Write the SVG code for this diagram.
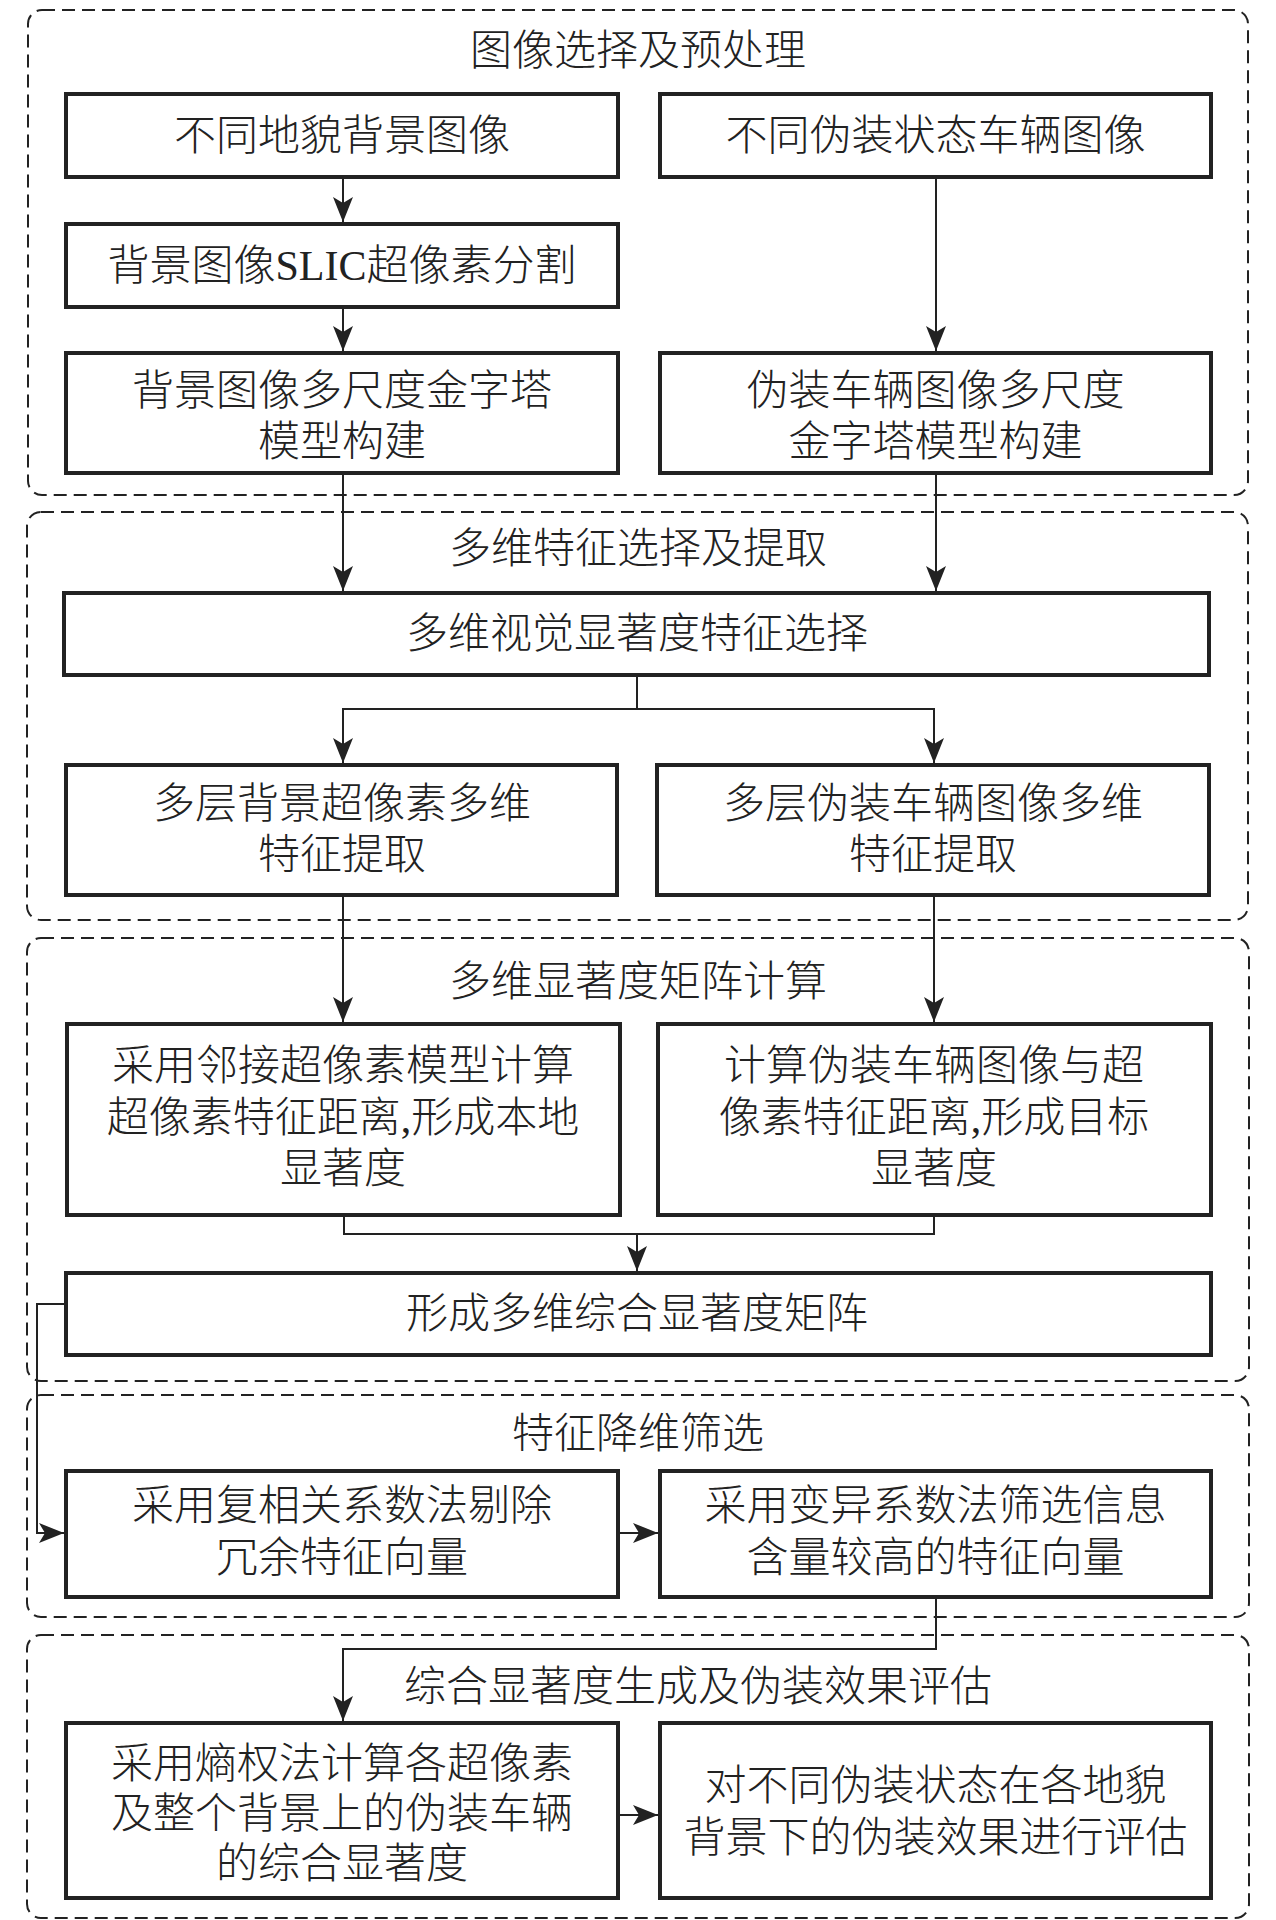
<svg xmlns="http://www.w3.org/2000/svg" width="1276" height="1920" viewBox="0 0 1276 1920">
<style>
.grp{fill:none;stroke:#222;stroke-width:2;stroke-dasharray:13 7;}
.box{fill:#fff;stroke:#222;stroke-width:4;}
.t{font-family:'Liberation Serif','Noto Sans CJK SC',serif;font-size:42px;fill:#222;text-anchor:middle;font-weight:300;}
.ts{text-anchor:start;}
.c{fill:none;stroke:#222;stroke-width:2;}
.a{marker-end:url(#ah);}
</style>
<defs>
<marker id="ah" markerUnits="userSpaceOnUse" markerWidth="30" markerHeight="26" viewBox="-26 -13 30 26" refX="0" refY="0" orient="auto">
<path d="M0,0 L-25,-10 L-19,0 L-25,10 Z" fill="#222"/>
</marker>
</defs>
<rect width="1276" height="1920" fill="#fff"/>
<g id="groups">
<rect class="grp" x="28" y="10" width="1220" height="485" rx="14"/>
<rect class="grp" x="27" y="512" width="1221" height="408" rx="14"/>
<rect class="grp" x="27" y="938" width="1222" height="443" rx="14"/>
<rect class="grp" x="27" y="1395" width="1222" height="222" rx="14"/>
<rect class="grp" x="27" y="1635" width="1222" height="283" rx="14"/>
<text class="t" x="638" y="65">图像选择及预处理</text>
<text class="t" x="638" y="563">多维特征选择及提取</text>
<text class="t" x="638" y="996">多维显著度矩阵计算</text>
<text class="t" x="638" y="1448">特征降维筛选</text>
<text class="t ts" x="404" y="1701">综合显著度生成及伪装效果评估</text>
</g>
<g id="connectors">
<path class="c a" d="M343,177 V222"/>
<path class="c a" d="M343,307 V351"/>
<path class="c a" d="M936,177 V351"/>
<path class="c a" d="M343,473 V591"/>
<path class="c a" d="M936,473 V591"/>
<path class="c a" d="M637,675 V709 H343 V763"/>
<path class="c a" d="M637,709 H934 V763"/>
<path class="c a" d="M343,895 V1022"/>
<path class="c a" d="M934,895 V1022"/>
<path class="c" d="M344,1215 V1234 H934 V1215"/>
<path class="c a" d="M637,1234 V1271"/>
<path class="c a" d="M66,1304 H37 V1533 H64"/>
<path class="c a" d="M618,1533 H658"/>
<path class="c a" d="M936,1597 V1649 H343 V1721"/>
<path class="c a" d="M618,1815 H658"/>
</g>
<g id="n1"><rect class="box" x="66" y="94" width="552" height="83"/><text class="t" x="342" y="150">不同地貌背景图像</text></g>
<g id="n2"><rect class="box" x="660" y="94" width="551" height="83"/><text class="t" x="935.5" y="150">不同伪装状态车辆图像</text></g>
<g id="n3"><rect class="box" x="66" y="224" width="552" height="83"/><text class="t" x="342" y="280">背景图像SLIC超像素分割</text></g>
<g id="n4"><rect class="box" x="66" y="353" width="552" height="120"/><text class="t" x="342" y="405">背景图像多尺度金字塔</text><text class="t" x="342" y="456">模型构建</text></g>
<g id="n5"><rect class="box" x="660" y="353" width="551" height="120"/><text class="t" x="935.5" y="405">伪装车辆图像多尺度</text><text class="t" x="935.5" y="456">金字塔模型构建</text></g>
<g id="n6"><rect class="box" x="64" y="593" width="1145" height="82"/><text class="t" x="637" y="648">多维视觉显著度特征选择</text></g>
<g id="n7"><rect class="box" x="66" y="765" width="551" height="130"/><text class="t" x="342" y="818">多层背景超像素多维</text><text class="t" x="342" y="869">特征提取</text></g>
<g id="n8"><rect class="box" x="657" y="765" width="552" height="130"/><text class="t" x="933" y="818">多层伪装车辆图像多维</text><text class="t" x="933" y="869">特征提取</text></g>
<g id="n9"><rect class="box" x="67" y="1024" width="553" height="191"/><text class="t" x="343" y="1080">采用邻接超像素模型计算</text><text class="t" x="343" y="1132">超像素特征距离,形成本地</text><text class="t" x="343" y="1183">显著度</text></g>
<g id="n10"><rect class="box" x="658" y="1024" width="553" height="191"/><text class="t" x="934" y="1080">计算伪装车辆图像与超</text><text class="t" x="934" y="1132">像素特征距离,形成目标</text><text class="t" x="934" y="1183">显著度</text></g>
<g id="n11"><rect class="box" x="66" y="1273" width="1145" height="82"/><text class="t" x="637" y="1328">形成多维综合显著度矩阵</text></g>
<g id="n12"><rect class="box" x="66" y="1471" width="552" height="126"/><text class="t" x="342" y="1520">采用复相关系数法剔除</text><text class="t" x="342" y="1572">冗余特征向量</text></g>
<g id="n13"><rect class="box" x="660" y="1471" width="551" height="126"/><text class="t" x="935.5" y="1520">采用变异系数法筛选信息</text><text class="t" x="935.5" y="1572">含量较高的特征向量</text></g>
<g id="n14"><rect class="box" x="66" y="1723" width="552" height="175"/><text class="t" x="342" y="1778">采用熵权法计算各超像素</text><text class="t" x="342" y="1828">及整个背景上的伪装车辆</text><text class="t" x="342" y="1878">的综合显著度</text></g>
<g id="n15"><rect class="box" x="660" y="1723" width="551" height="175"/><text class="t" x="935.5" y="1800">对不同伪装状态在各地貌</text><text class="t" x="935.5" y="1852">背景下的伪装效果进行评估</text></g>
</svg>
